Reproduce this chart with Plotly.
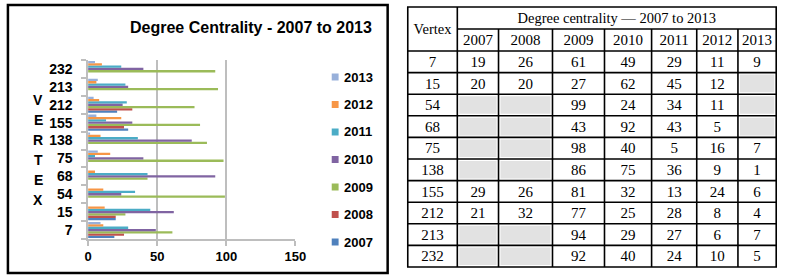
import plotly.graph_objects as go

# ---------------- data ----------------
vertices = ["7", "15", "54", "68", "75", "138", "155", "212", "213", "232"]
years = ["2007", "2008", "2009", "2010", "2011", "2012", "2013"]
v2007 = [19, 20, None, None, None, None, 29, 21, None, None]
v2008 = [26, 20, None, None, None, None, 26, 32, None, None]
v2009 = [61, 27, 99, 43, 98, 86, 81, 77, 94, 92]
v2010 = [49, 62, 24, 92, 40, 75, 32, 25, 29, 40]
v2011 = [29, 45, 34, 43, 5, 36, 13, 28, 27, 24]
v2012 = [11, 12, 11, 5, 16, 9, 24, 8, 6, 10]
v2013 = [9, None, None, None, 7, 1, 6, 4, 7, 5]
x_ticks = [0, 50, 100, 150]
chart_title = "Degree Centrality - 2007 to 2013"
table_title = "Degree centrality \u2014 2007 to 2013"
vertex_header = "Vertex"
axis_letters = "VERTEX"

series = [v2007, v2008, v2009, v2010, v2011, v2012, v2013]

# ---------------- styles ----------------
W, H = 798, 278
colors = ["#4F81BD", "#C0504D", "#9BBB59", "#8064A2", "#4BACC6", "#F79646", "#98B0DA"]
SANS = "Liberation Sans, Arial, sans-serif"
SERIF = "Liberation Serif, Times New Roman, serif"


def fx(px):
    return px / W


def fy(py):
    return 1 - py / H


fig = go.Figure()

# bar chart
for yr, vals, col in zip(years, series, colors):
    fig.add_trace(go.Bar(
        y=vertices, x=vals, name=yr, orientation="h",
        marker=dict(color=col, line=dict(width=0)),
        showlegend=False, hoverinfo="x+y+name",
        xaxis="x", yaxis="y",
    ))

# ---------------- table (on hidden pixel-like axes) ----------------
TX0 = 402  # left pixel of the table subplot
col_edges = [411.5, 462, 504, 559, 612, 660, 706, 748, 787]
top, hdr_mid, hdr_bot, bottom = 7, 29, 51, 267
n_rows = len(vertices)
row_h = (bottom - hdr_bot) / n_rows
row_edges = [hdr_bot + row_h * k for k in range(n_rows + 1)]

shapes = []
# gray empty cells
for r in range(n_rows):
    for j, vals in enumerate(series):
        if vals[r] is None:
            shapes.append(dict(type="rect", xref="x2", yref="y2",
                               x0=col_edges[j + 1] + 2, x1=col_edges[j + 2] - 2,
                               y0=row_edges[r] + 2, y1=row_edges[r + 1] - 2,
                               fillcolor="#E2E2E2", line=dict(width=0), layer="below"))
LW = 1.6
# outer border
shapes.append(dict(type="rect", xref="x2", yref="y2", x0=col_edges[0], x1=col_edges[-1],
                   y0=top, y1=bottom, line=dict(color="black", width=LW)))
# vertical lines
shapes.append(dict(type="line", xref="x2", yref="y2", x0=col_edges[1], x1=col_edges[1],
                   y0=top, y1=bottom, line=dict(color="black", width=LW)))
for e in col_edges[2:-1]:
    shapes.append(dict(type="line", xref="x2", yref="y2", x0=e, x1=e,
                       y0=hdr_mid, y1=bottom, line=dict(color="black", width=LW)))
# horizontal lines
shapes.append(dict(type="line", xref="x2", yref="y2", x0=col_edges[1], x1=col_edges[-1],
                   y0=hdr_mid, y1=hdr_mid, line=dict(color="black", width=LW)))
for e in row_edges[:-1]:
    shapes.append(dict(type="line", xref="x2", yref="y2", x0=col_edges[0], x1=col_edges[-1],
                       y0=e, y1=e, line=dict(color="black", width=LW)))

# table texts
centers_x = [(col_edges[i] + col_edges[i + 1]) / 2 for i in range(len(col_edges) - 1)]
hx, hy, ht = [], [], []
hx.append(centers_x[0]); hy.append((top + hdr_bot) / 2 + 1); ht.append(vertex_header)
hx.append((col_edges[1] + col_edges[-1]) / 2); hy.append((top + hdr_mid) / 2 + 1); ht.append(table_title)
fig.add_trace(go.Scatter(x=hx, y=hy, text=ht, mode="text", textposition="middle center",
                         textfont=dict(family=SERIF, size=14.5, color="black"),
                         xaxis="x2", yaxis="y2", showlegend=False, hoverinfo="skip",
                         cliponaxis=False))
tx, ty, tt = [], [], []
for j, yr in enumerate(years):
    tx.append(centers_x[j + 1]); ty.append((hdr_mid + hdr_bot) / 2 + 1.5); tt.append(yr)
for r, v in enumerate(vertices):
    cy = (row_edges[r] + row_edges[r + 1]) / 2 + 1.5
    tx.append(centers_x[0]); ty.append(cy); tt.append(v)
    for j, vals in enumerate(series):
        if vals[r] is not None:
            tx.append(centers_x[j + 1]); ty.append(cy); tt.append(str(vals[r]))
fig.add_trace(go.Scatter(x=tx, y=ty, text=tt, mode="text", textposition="middle center",
                         textfont=dict(family=SERIF, size=15, color="black"),
                         xaxis="x2", yaxis="y2", showlegend=False, hoverinfo="skip",
                         cliponaxis=False))

# chart box border
shapes.append(dict(type="rect", xref="paper", yref="paper", x0=fx(4), x1=fx(391),
                   y0=fy(273), y1=fy(5), line=dict(color="black", width=2.5)))

annotations = []
annotations.append(dict(text=chart_title, x=fx(252), y=fy(27), xref="paper", yref="paper",
                        showarrow=False, xanchor="center", yanchor="middle",
                        font=dict(family=SANS, size=16, color="black", weight="bold")))
for i, ch in enumerate(axis_letters):
    annotations.append(dict(text=ch, x=fx(35), y=fy(100 + 20 * i), xref="paper", yref="paper",
                            showarrow=False, xanchor="center", yanchor="middle",
                            font=dict(family=SANS, size=14, color="black", weight="bold")))
# legend (top = 2013 down to 2007)
for i, (yr, col) in enumerate(zip(years[::-1], colors[::-1])):
    cy = 77 + 27.5 * i
    shapes.append(dict(type="rect", xref="paper", yref="paper", x0=fx(334), x1=fx(341),
                       y0=fy(cy + 3.5), y1=fy(cy - 3.5), fillcolor=col, line=dict(width=0)))
    annotations.append(dict(text=yr, x=fx(344), y=fy(cy), xref="paper", yref="paper",
                            showarrow=False, xanchor="left", yanchor="middle",
                            font=dict(family=SANS, size=13, color="black", weight="bold")))

fig.update_layout(
    width=W, height=H, margin=dict(l=0, r=0, t=0, b=0),
    paper_bgcolor="white", plot_bgcolor="rgba(0,0,0,0)",
    barmode="group", bargap=0.1, bargroupgap=0,
    shapes=shapes, annotations=annotations, showlegend=False,
    xaxis=dict(domain=[fx(85.7), fx(297)], range=[0, 150], tickvals=x_ticks,
               showgrid=True, gridcolor="#BEBEBE", gridwidth=1.5, zeroline=False,
               showline=True, linecolor="#BEBEBE", linewidth=1.5,
               ticks="outside", ticklen=5, tickcolor="#BEBEBE", tickwidth=1.5,
               tickfont=dict(family=SANS, size=13, color="black", weight="bold"),
               fixedrange=True, anchor="y"),
    yaxis=dict(domain=[fy(239), fy(60)], type="category", categoryorder="array",
               categoryarray=vertices, showgrid=False, zeroline=False,
               showline=True, linecolor="#BEBEBE", linewidth=1.5,
               ticks="outside", ticklen=5, tickcolor="#BEBEBE", tickwidth=1.5,
               tickson="boundaries", ticklabelstandoff=11,
               tickfont=dict(family=SANS, size=14, color="black", weight="bold"),
               fixedrange=True, anchor="x"),
    xaxis2=dict(domain=[fx(TX0), 1], range=[TX0, W], visible=False, fixedrange=True, anchor="y2"),
    yaxis2=dict(domain=[0, 1], range=[H, 0], visible=False, fixedrange=True, anchor="x2"),
)

fig.write_html("out.html", config={"displayModeBar": False},
               post_script="document.body.style.margin='0px';")
